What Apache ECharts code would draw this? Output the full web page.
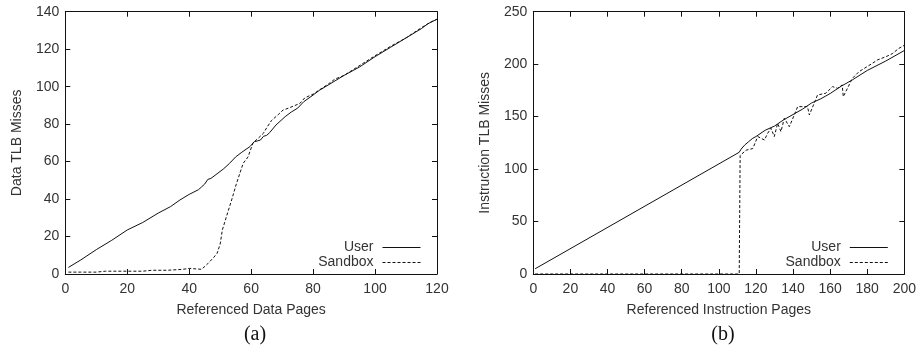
<!DOCTYPE html>
<html>
<head>
<meta charset="utf-8">
<script src="https://cdn.jsdelivr.net/npm/echarts@6/dist/echarts.min.js"></script>
<style>
html,body{margin:0;padding:0;background:#fff;}
#c{width:919px;height:348px;}
</style>
</head>
<body>
<div id="c"></div>
<script>
// ---- Data ----
// Chart (a): Data TLB misses
const userAX = [1, 5, 10, 15, 20, 25, 30, 34, 37, 40, 43, 44, 45, 46, 47, 49, 51, 53, 55, 57, 59.6, 61, 62, 63, 64, 65, 66, 68, 71, 73, 75, 77, 80, 82, 85, 90, 95, 100, 105, 110, 113, 115, 117, 120];
const userAY = [3.5, 7.5, 13, 18, 23.5, 27.5, 32.5, 36, 39.5, 42.5, 45, 46.5, 48, 50.5, 51, 53.5, 56, 59, 62.5, 65, 68, 70.6, 71, 71.5, 73.5, 74, 75.5, 79.5, 84, 86.5, 88.5, 92, 95.5, 98, 101, 106, 110.5, 116, 121, 126, 129, 131, 133.5, 136];
const sandAX = [1, 5, 10, 13, 16, 20, 25, 28, 33, 38, 40, 44, 46, 48, 49, 50, 50.7, 52, 53.7, 55.3, 57.4, 59, 60.6, 62.3, 63.9, 65, 66.6, 68.7, 70.3, 72, 75.7, 77.3, 80, 85, 87, 90, 100, 105, 110, 115, 118, 120];
const sandAY = [1, 1, 1, 1.5, 1.5, 1.5, 1.5, 2, 2, 2.5, 3, 2.5, 5.5, 9, 11, 16, 23.5, 30.5, 39.5, 48.5, 59, 62.5, 70, 72.5, 75, 78, 82, 85, 87.5, 88.5, 91, 94, 96, 101.5, 104, 106, 116.5, 121.5, 126, 131.5, 134.5, 136];
// Chart (b): Instruction TLB misses
const userBX = [1, 111, 112, 114, 116, 118, 120, 125, 130, 135, 140, 145, 150, 155, 160, 166, 172, 180, 190, 200];
const userBY = [5, 116, 119, 123, 126, 129, 131, 137, 141, 147, 152, 157, 163, 167, 172, 179, 185, 194, 203, 213];
const sandBX = [1, 111, 111.5, 112, 114.7, 118.3, 121, 124.6, 126.3, 128.1, 129.9, 131.7, 133.5, 135.3, 138, 140.7, 142.5, 147.8, 148.8, 151.4, 153.2, 157.7, 161.3, 164, 166.5, 167.1, 172, 175.6, 182.8, 185.5, 190, 193.5, 197, 200];
const sandBY = [0, 0, 113, 113.4, 118, 119.6, 131, 127.7, 134, 139, 131, 143.6, 135.7, 148.4, 140.4, 151.6, 159.5, 159.5, 151.6, 162.7, 170.6, 172.3, 178.6, 177, 180.2, 169, 186.5, 192.9, 200.8, 204, 207, 210, 215, 218];

const seriesNames = ['User', 'Sandbox'];
const xNames = ['Referenced Data Pages', 'Referenced Instruction Pages'];
const yNames = ['Data TLB Misses', 'Instruction TLB Misses'];
const captions = ['(a)', '(b)'];
const xMax = [120, 200], xStep = [20, 20];
const yMax = [140, 250], yStep = [20, 50];

const pairs = (xs, ys) => xs.map((x, i) => [x, ys[i]]);

const FONT = '"Liberation Sans", Arial, Helvetica, sans-serif';
const TXT = '#333';
const LINE = '#111';

const grids = [
  {left: 65.3, right: 919 - 437, top: 11.7, bottom: 348 - 274},
  {left: 533.3, right: 919 - 905.3, top: 11.7, bottom: 348 - 274}
];

const xAxes = [], yAxes = [];
for (let g = 0; g < 2; g++) {
  const common = {
    gridIndex: g, type: 'value', min: 0,
    axisLine: {show: true, onZero: false, lineStyle: {color: LINE, width: 1}},
    axisTick: {show: true, inside: true, length: 5, lineStyle: {color: LINE}},
    splitLine: {show: false}
  };
  xAxes.push(Object.assign({}, common, {
    position: 'bottom', max: xMax[g], interval: xStep[g],
    name: xNames[g], nameLocation: 'middle', nameGap: 29,
    nameTextStyle: {color: TXT, fontFamily: FONT, fontSize: 14},
    axisLabel: {color: TXT, fontFamily: FONT, fontSize: 14, margin: 8}
  }));
  xAxes.push(Object.assign({}, common, {
    position: 'top', max: xMax[g], interval: xStep[g],
    axisLabel: {show: false}
  }));
  yAxes.push(Object.assign({}, common, {
    position: 'left', max: yMax[g], interval: yStep[g],
    name: yNames[g], nameLocation: 'middle', nameGap: 41, nameRotate: 90,
    nameTextStyle: {color: TXT, fontFamily: FONT, fontSize: 14},
    axisLabel: {color: TXT, fontFamily: FONT, fontSize: 14, margin: 6}
  }));
  yAxes.push(Object.assign({}, common, {
    position: 'right', max: yMax[g], interval: yStep[g],
    axisLabel: {show: false}
  }));
}

const data = [
  [pairs(userAX, userAY), pairs(sandAX, sandAY)],
  [pairs(userBX, userBY), pairs(sandBX, sandBY)]
];

const series = [];
for (let g = 0; g < 2; g++) {
  for (let s = 0; s < 2; s++) {
    series.push({
      type: 'line', name: seriesNames[s],
      xAxisIndex: g * 2, yAxisIndex: g * 2,
      data: data[g][s], symbol: 'none', showSymbol: false,
      animation: false,
      lineStyle: s === 0 ? {color: LINE, width: 1} : {color: LINE, width: 1, type: [3, 2]},
      itemStyle: {color: LINE}
    });
  }
}

const legendRight = [919 - 421 - 5, 919 - 888.3 - 5];
const legends = legendRight.map(r => ({
  data: seriesNames, orient: 'vertical', align: 'right',
  right: r, top: 235, itemWidth: 38, itemHeight: 10, itemGap: 0,
  selectedMode: false,
  itemStyle: {opacity: 0},
  lineStyle: {width: 1},
  textStyle: {color: TXT, fontFamily: FONT, fontSize: 14, lineHeight: 15, padding: [0, 4, 0, 0]}
}));

const titleFont = {fontFamily: '"Liberation Serif", "Times New Roman", serif', fontWeight: 'normal', fontSize: 20, color: '#111'};
const titles = [
  {text: captions[0], left: 250, top: 320, textAlign: 'center', textStyle: titleFont},
  {text: captions[1], left: 718, top: 320, textAlign: 'center', textStyle: titleFont}
];

const chart = echarts.init(document.getElementById('c'), null, {renderer: 'canvas'});
chart.setOption({
  animation: false,
  backgroundColor: '#fff',
  title: titles,
  grid: grids,
  xAxis: xAxes,
  yAxis: yAxes,
  legend: legends,
  series: series
});
</script>
</body>
</html>
